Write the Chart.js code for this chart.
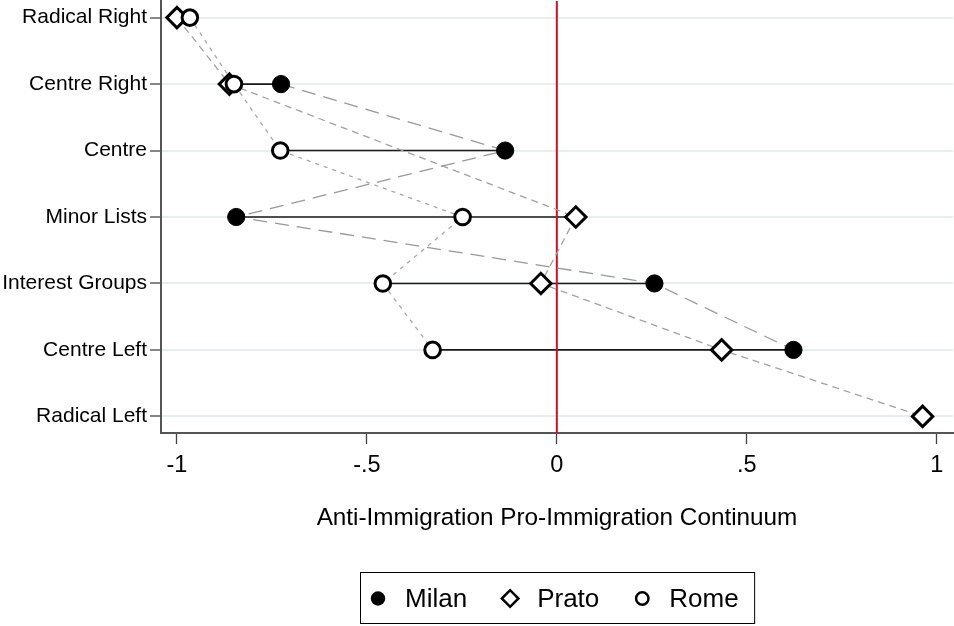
<!DOCTYPE html>
<html>
<head>
<meta charset="utf-8">
<script src="https://cdn.jsdelivr.net/npm/chart.js@4.4.0/dist/chart.umd.min.js"></script>
<style>
  html, body { margin: 0; padding: 0; background: #fff; }
  #wrap { width: 954px; height: 626px; }
</style>
</head>
<body>
<div id="wrap"><canvas id="chart" width="954" height="626"></canvas></div>
<script>
// party families, top to bottom
var categories = ['Radical Right', 'Centre Right', 'Centre', 'Minor Lists', 'Interest Groups', 'Centre Left', 'Radical Left'];
// position on the anti/pro immigration continuum (null = no party)
var milan = [null, -0.726, -0.136, -0.844, 0.257, 0.623, null];
var prato = [-1.0, -0.862, null, 0.050, -0.042, 0.434, 0.963];
var rome  = [-0.966, -0.850, -0.728, -0.248, -0.458, -0.327, null];
var xTicks = [-1, -0.5, 0, 0.5, 1];
var xTickLabels = ['-1', '-.5', '0', '.5', '1'];

var FONT = 'Arial, "Liberation Sans", Helvetica, sans-serif';

function toPoints(vals) {
    var pts = [];
    for (var i = 0; i < vals.length; i++) {
        if (vals[i] !== null) pts.push({x: vals[i], y: i});
    }
    return pts;
}

var datasets = [];

// black range line for every row (min to max of the three cities)
categories.forEach(function (c, i) {
    var vals = [milan[i], prato[i], rome[i]].filter(function (v) { return v !== null; });
    if (vals.length < 2) return;
    datasets.push({
        data: [{x: Math.min.apply(null, vals), y: i}, {x: Math.max.apply(null, vals), y: i}],
        showLine: true, pointRadius: 0, borderColor: '#1a1a1a', borderWidth: 1.6, order: 10
    });
});

// red reference line at zero
datasets.push({
    data: [{x: 0, y: -0.25}, {x: 0, y: categories.length - 0.75}],
    showLine: true, pointRadius: 0, borderColor: '#c8102e', borderWidth: 2, order: 9
});

// dashed connecting lines
datasets.push({data: toPoints(milan), showLine: true, pointRadius: 0, borderColor: '#999999', borderWidth: 1.3, borderDash: [14, 8], order: 8});
datasets.push({data: toPoints(prato), showLine: true, pointRadius: 0, borderColor: '#a2a2a2', borderWidth: 1.3, borderDash: [7, 5], order: 8});
datasets.push({data: toPoints(rome),  showLine: true, pointRadius: 0, borderColor: '#a8a8a8', borderWidth: 1.3, borderDash: [4, 5], order: 8});

// markers
datasets.push({label: 'Milan', data: toPoints(milan), pointStyle: 'circle', pointRadius: 8.6,
    backgroundColor: '#000', borderColor: '#000', borderWidth: 1, order: 3});
datasets.push({label: 'Prato', data: toPoints(prato), pointStyle: 'rectRot', pointRadius: 10.2,
    backgroundColor: '#fff', borderColor: '#000', borderWidth: 3, order: 2});
datasets.push({label: 'Rome', data: toPoints(rome), pointStyle: 'circle', pointRadius: 7.8,
    backgroundColor: '#fff', borderColor: '#000', borderWidth: 3, order: 1});

// boxed legend under the axis title
var legendItems = [
    {text: 'Milan', style: 'dot'},
    {text: 'Prato', style: 'diamond'},
    {text: 'Rome', style: 'ring'}
];

var boxLegend = {
    id: 'boxLegend',
    afterDraw: function (chart) {
        var ctx = chart.ctx, area = chart.chartArea;
        ctx.save();
        ctx.font = '26px ' + FONT;
        var padL = 17.5, toText = 27, gap = 43, padR = 16;
        var total = padL + padR;
        legendItems.forEach(function (it, k) {
            total += toText + ctx.measureText(it.text).width;
            if (k > 0) total += gap;
        });
        var cx = (area.left + area.right) / 2;
        var left = Math.round(cx - total / 2) + 0.5;
        var top = 572.5, h = 51, cy = top + h / 2 + 0.5;
        ctx.strokeStyle = '#000';
        ctx.lineWidth = 1;
        ctx.strokeRect(left, top, total, h);

        var x = left + padL;
        ctx.textBaseline = 'middle';
        ctx.fillStyle = '#000';
        legendItems.forEach(function (it, k) {
            if (k > 0) x += gap;
            ctx.beginPath();
            if (it.style === 'dot') {
                ctx.arc(x, cy, 7.2, 0, Math.PI * 2);
                ctx.fill();
            } else if (it.style === 'diamond') {
                ctx.lineWidth = 2.5;
                ctx.moveTo(x - 8.3, cy); ctx.lineTo(x, cy - 8.3);
                ctx.lineTo(x + 8.3, cy); ctx.lineTo(x, cy + 8.3);
                ctx.closePath();
                ctx.stroke();
            } else {
                ctx.lineWidth = 2.5;
                ctx.arc(x, cy, 6.2, 0, Math.PI * 2);
                ctx.stroke();
            }
            x += toText;
            ctx.fillText(it.text, x, cy + 1);
            x += ctx.measureText(it.text).width;
        });
        ctx.restore();
    }
};

new Chart(document.getElementById('chart').getContext('2d'), {
    type: 'scatter',
    data: {datasets: datasets},
    plugins: [boxLegend],
    options: {
        responsive: false,
        devicePixelRatio: 1,
        animation: false,
        events: [],
        layout: {autoPadding: false, padding: {top: 1, right: 1, bottom: 0, left: 0}},
        plugins: {legend: {display: false}, tooltip: {enabled: false}},
        scales: {
            x: {
                type: 'linear', min: -1.042, max: 1.043,
                afterBuildTicks: function (s) { s.ticks = xTicks.map(function (v) { return {value: v}; }); },
                afterFit: function (s) { s.height = 193; s.paddingLeft = 0; s.paddingRight = 0; },
                ticks: {
                    autoSkip: false, maxRotation: 0, padding: 7, color: '#000',
                    font: {family: FONT, size: 23.5},
                    callback: function (v, i) { return xTickLabels[i]; }
                },
                grid: {drawOnChartArea: false, tickLength: 11, tickColor: '#444', tickWidth: 1.3},
                border: {color: '#555', width: 2},
                title: {
                    display: true, text: 'Anti-Immigration Pro-Immigration Continuum',
                    color: '#000', font: {family: FONT, size: 24.3},
                    padding: {top: 0, bottom: 93}
                }
            },
            y: {
                type: 'linear', reverse: true, min: -0.25, max: categories.length - 0.75,
                afterBuildTicks: function (s) { s.ticks = categories.map(function (c, i) { return {value: i}; }); },
                afterFit: function (s) { s.width = 161; s.paddingTop = 0; s.paddingBottom = 0; },
                ticks: {
                    autoSkip: false, padding: 3, color: '#000',
                    font: {family: FONT, size: 21},
                    callback: function (v) { return categories[v]; }
                },
                grid: {color: '#e6eef0', lineWidth: 2, tickLength: 11, tickColor: '#444', tickWidth: 1.3},
                border: {color: '#555', width: 2}
            }
        }
    }
});
</script>
</body>
</html>
